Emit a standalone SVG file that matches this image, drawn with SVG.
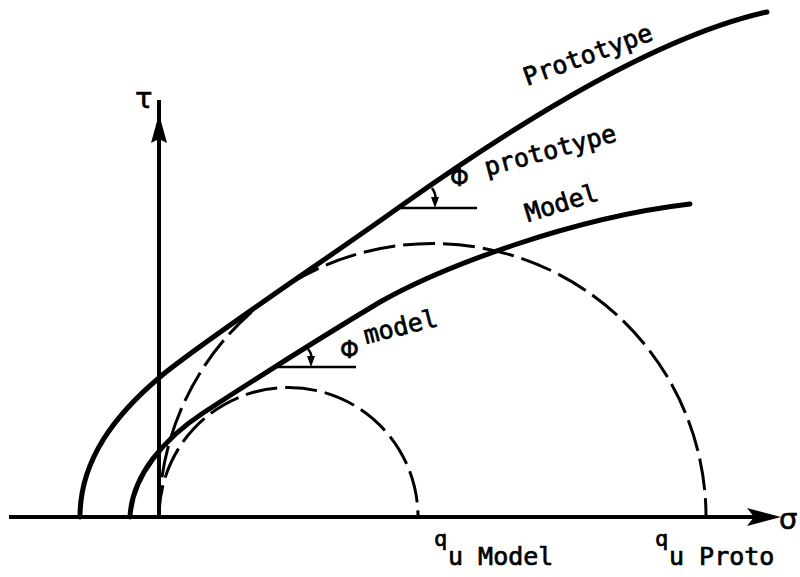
<svg xmlns="http://www.w3.org/2000/svg" width="800" height="577" viewBox="0 0 800 577">
<style>
.curve{fill:none;stroke:#000;stroke-width:5;stroke-linecap:round;stroke-linejoin:round}
.axis{fill:none;stroke:#000;stroke-width:4}
.dash{fill:none;stroke:#000;stroke-width:3;stroke-dasharray:32 8}
.thin{fill:none;stroke:#000;stroke-width:2.5}
.lbl{font-family:"DejaVu Sans Mono","Liberation Mono",monospace;font-size:25px;fill:#000;stroke:#000;stroke-width:0.7}
.sym{font-family:"DejaVu Sans","Liberation Sans",sans-serif;font-size:24px;fill:#000;stroke:#000;stroke-width:0.6}
.big{font-size:29px}
.sup{font-size:22px}
</style>
<rect width="800" height="577" fill="#fff"/>
<g id="axes">
  <line class="axis" x1="9" y1="517" x2="760" y2="517"/>
  <polygon points="781,517 747,508 754,517 747,526" fill="#000"/>
  <line x1="159" y1="519" x2="159" y2="100" stroke="#000" stroke-width="4"/>
  <polygon points="159,114 167,143 159,139 151,143" fill="#000"/>
</g>
<g id="circles">
  <path class="dash" d="M159,517 A129.5,129.5 0 0 1 418,517"/>
  <path class="dash" d="M159,517 A273.5,273.5 0 0 1 706,517"/>
</g>
<g id="connectors">
  <path id="prototype-envelope" class="curve" d="M80,517 C80,460 115,415 160,377 C200,343 340,250 398,208 C480,150 640,40 767,12"/>
  <path id="model-envelope" class="curve" d="M130,517 C132,475 165,438 203,413 C260,376 330,332 380,302 C440,268 570,218 690,204"/>
  <line class="thin" x1="398" y1="208" x2="477" y2="208"/>
  <line class="thin" x1="273" y1="367" x2="356" y2="367"/>
  <path class="thin" d="M432,188 Q437,195 435,202" stroke-width="2"/>
  <polygon points="435,208 431,197 439,197" fill="#000"/>
  <path class="thin" d="M308,349 Q313,355 311,362" stroke-width="2"/>
  <polygon points="311,367 307,356 315,356" fill="#000"/>
</g>
<g id="labels">
  <text class="sym big" x="135" y="108">τ</text>
  <text class="sym big" x="779" y="529">σ</text>
  <text class="lbl" transform="translate(527,86) rotate(-20)">Prototype</text>
  <text class="sym" x="450" y="186">Φ</text>
  <text class="lbl" transform="translate(487,176) rotate(-15)">prototype</text>
  <text class="lbl" transform="translate(528,222) rotate(-17)">Model</text>
  <text class="sym" x="340" y="358">Φ</text>
  <text class="lbl" transform="translate(366,344) rotate(-14)">model</text>
  <text class="lbl sup" x="434" y="546">q</text>
  <text class="lbl" x="448" y="565">u Model</text>
  <text class="lbl sup" x="655" y="546">q</text>
  <text class="lbl" x="669" y="565">u Proto</text>
</g>
</svg>
